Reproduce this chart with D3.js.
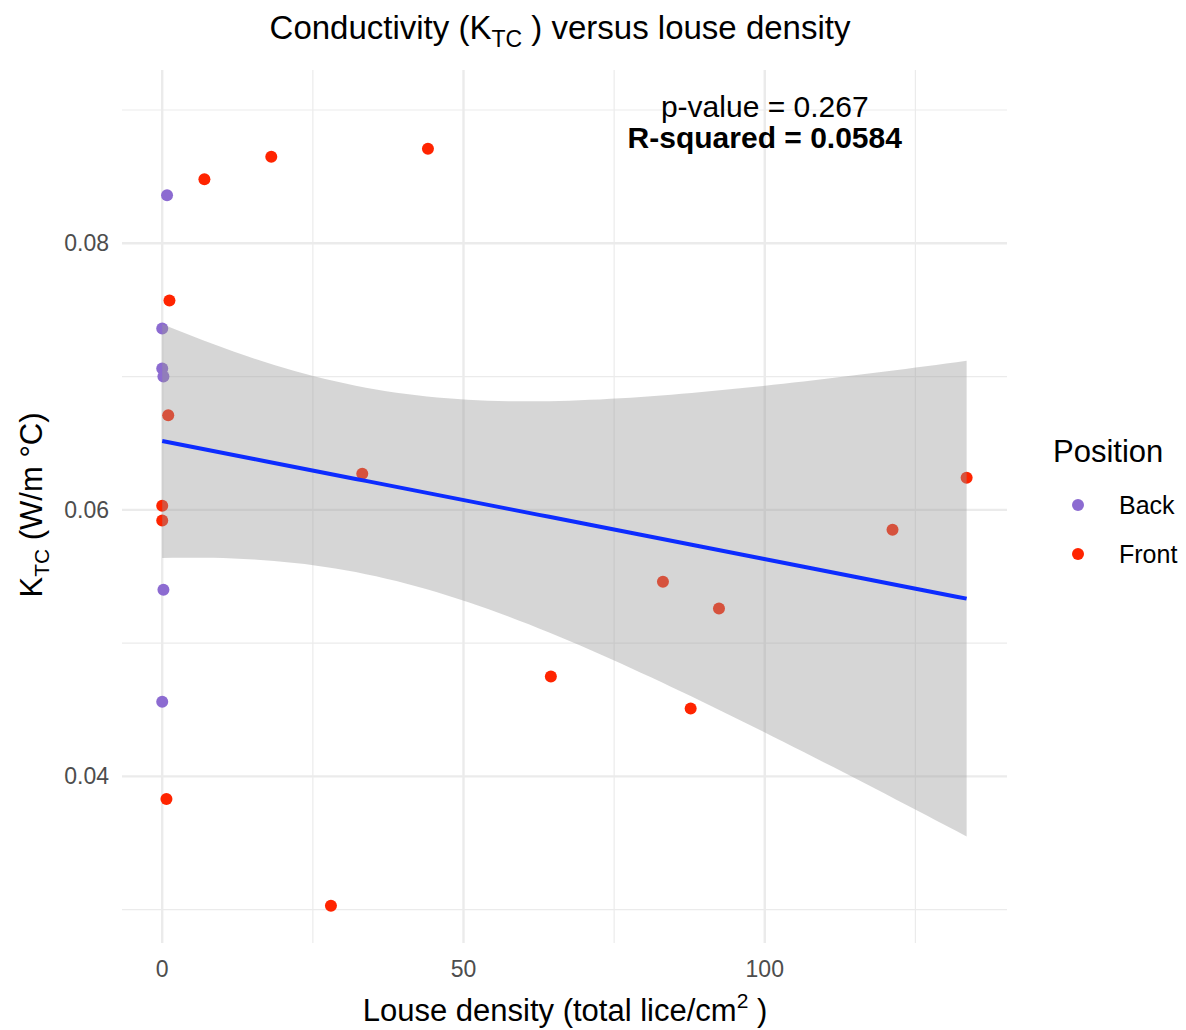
<!DOCTYPE html>
<meta charset="utf-8">
<style>
body {
  margin: 0;
  background: #fff;
  font-family: "Liberation Sans", Helvetica, Arial, sans-serif;
}
.grid line {
  stroke: #ebebeb;
}
.tick-label {
  fill: #4d4d4d;
  font-size: 23px;
}
</style>
<body>
<script src="https://cdn.jsdelivr.net/npm/d3@7"></script>
<script>

var width = 1186,
    height = 1030;

// Back position samples
var backDensity = [0.8, 0, 0, 0.2, 0.2, 0];
var backK = [0.0836, 0.0736, 0.0706, 0.0700, 0.0540, 0.0456];

// Front position samples
var frontDensity = [7.0, 18.1, 44.1, 1.2, 1.0, 33.2, 0, 0, 0.7, 28.0, 64.5, 83.1, 92.4, 87.7, 121.2, 133.5];
var frontK = [0.0848, 0.0865, 0.0871, 0.0757, 0.0671, 0.0627, 0.0603, 0.0592, 0.0383, 0.0303, 0.0475, 0.0546, 0.0526, 0.0451, 0.0585, 0.0624];

var positions = ["Back", "Front"];
var colors = ["#8c6bd1", "#ff2400"];

var xTicks = [0, 50, 100];
var xMinor = [25, 75, 125];
var yTicks = [0.04, 0.06, 0.08];
var yMinor = [0.03, 0.05, 0.07, 0.09];

var annotation = ["p-value = 0.267", "R-squared = 0.0584"];

var margin = {top: 70, right: 179, bottom: 87, left: 122};

var points = [];
backDensity.forEach(function(d, i) { points.push({x: d, y: backK[i], pos: "Back"}); });
frontDensity.forEach(function(d, i) { points.push({x: d, y: frontK[i], pos: "Front"}); });

var x = d3.scaleLinear()
    .domain([-6.675, 140.2])
    .range([margin.left, width - margin.right]);

var y = d3.scaleLinear()
    .domain([0.0275, 0.0930])
    .range([height - margin.bottom, margin.top]);

var color = d3.scaleOrdinal().domain(positions).range(colors);

// linear fit + 95% confidence band
var n = points.length;
var mx = d3.mean(points, function(d) { return d.x; });
var my = d3.mean(points, function(d) { return d.y; });
var sxx = d3.sum(points, function(d) { return (d.x - mx) * (d.x - mx); });
var sxy = d3.sum(points, function(d) { return (d.x - mx) * (d.y - my); });
var slope = sxy / sxx;
var icpt = my - slope * mx;
var sse = d3.sum(points, function(d) { var r = d.y - (icpt + slope * d.x); return r * r; });
var s = Math.sqrt(sse / (n - 2));
var tcrit = 2.086; // t(0.975, df = 20)
var xmin = d3.min(points, function(d) { return d.x; });
var xmax = d3.max(points, function(d) { return d.x; });
var fit = d3.range(80).map(function(i) {
  var xv = xmin + (xmax - xmin) * i / 79;
  var yv = icpt + slope * xv;
  var se = s * Math.sqrt(1 / n + (xv - mx) * (xv - mx) / sxx);
  return {x: xv, y: yv, lo: yv - tcrit * se, hi: yv + tcrit * se};
});

var svg = d3.select("body").append("svg")
    .attr("width", width)
    .attr("height", height);

// grid
var grid = svg.append("g").attr("class", "grid");
grid.selectAll(".ymin").data(yMinor).enter().append("line")
    .attr("x1", margin.left).attr("x2", width - margin.right)
    .attr("y1", y).attr("y2", y)
    .attr("stroke-width", 1.2);
grid.selectAll(".xmin").data(xMinor).enter().append("line")
    .attr("y1", margin.top).attr("y2", height - margin.bottom)
    .attr("x1", x).attr("x2", x)
    .attr("stroke-width", 1.2);
grid.selectAll(".ymaj").data(yTicks).enter().append("line")
    .attr("x1", margin.left).attr("x2", width - margin.right)
    .attr("y1", y).attr("y2", y)
    .attr("stroke-width", 2.4);
grid.selectAll(".xmaj").data(xTicks).enter().append("line")
    .attr("y1", margin.top).attr("y2", height - margin.bottom)
    .attr("x1", x).attr("x2", x)
    .attr("stroke-width", 2.4);

// points
svg.append("g").selectAll("circle")
    .data(points)
  .enter().append("circle")
    .attr("cx", function(d) { return x(d.x); })
    .attr("cy", function(d) { return y(d.y); })
    .attr("r", 6)
    .attr("fill", function(d) { return color(d.pos); });

// smooth
svg.append("path")
    .datum(fit)
    .attr("fill", "#999999")
    .attr("fill-opacity", 0.4)
    .attr("d", d3.area()
      .x(function(d) { return x(d.x); })
      .y0(function(d) { return y(d.lo); })
      .y1(function(d) { return y(d.hi); }));

svg.append("path")
    .datum(fit)
    .attr("fill", "none")
    .attr("stroke", "#0d2cff")
    .attr("stroke-width", 4)
    .attr("d", d3.line()
      .x(function(d) { return x(d.x); })
      .y(function(d) { return y(d.y); }));

// annotation
svg.selectAll(".annot")
    .data(annotation)
  .enter().append("text")
    .attr("x", x(100))
    .attr("y", function(d, i) { return 117 + i * 31; })
    .attr("text-anchor", "middle")
    .attr("font-size", function(d, i) { return i === 1 ? 30 : 30; })
    .attr("font-weight", function(d, i) { return i === 1 ? "bold" : "normal"; })
    .attr("fill", "#000")
    .text(function(d) { return d; });

// tick labels
svg.selectAll(".xl").data(xTicks).enter().append("text")
    .attr("class", "tick-label")
    .attr("x", x)
    .attr("y", 977)
    .attr("text-anchor", "middle")
    .text(function(d) { return d; });

svg.selectAll(".yl").data(yTicks).enter().append("text")
    .attr("class", "tick-label")
    .attr("x", 109)
    .attr("y", function(d) { return y(d) + 8; })
    .attr("text-anchor", "end")
    .text(function(d) { return d3.format(".2f")(d); });

// title
var title = svg.append("text")
    .attr("x", 560)
    .attr("y", 39)
    .attr("text-anchor", "middle")
    .attr("font-size", 33)
    .attr("fill", "#000");
title.append("tspan").text("Conductivity (K");
title.append("tspan").attr("font-size", 23).attr("dy", 8).text("TC");
title.append("tspan").attr("dy", -8).text(" ) versus louse density");

// x axis title
var xt = svg.append("text")
    .attr("x", 565)
    .attr("y", 1021)
    .attr("text-anchor", "middle")
    .attr("font-size", 31)
    .attr("fill", "#000");
xt.append("tspan").text("Louse density (total lice/cm");
xt.append("tspan").attr("font-size", 21).attr("dy", -13).text("2");
xt.append("tspan").attr("dy", 13).text(" )");

// y axis title
var yt = svg.append("text")
    .attr("transform", "translate(42," + 505 + ") rotate(-90)")
    .attr("text-anchor", "middle")
    .attr("font-size", 31)
    .attr("fill", "#000");
yt.append("tspan").text("K");
yt.append("tspan").attr("font-size", 21).attr("dy", 7).text("TC");
yt.append("tspan").attr("dy", -7).text(" (W/m \u00B0C)");

// legend
var legend = svg.append("g");
legend.append("text")
    .attr("x", 1053)
    .attr("y", 462)
    .attr("font-size", 31)
    .attr("fill", "#000")
    .text("Position");
var li = legend.selectAll(".li").data(positions).enter().append("g")
    .attr("transform", function(d, i) { return "translate(0," + (505 + i * 49) + ")"; });
li.append("circle")
    .attr("cx", 1078)
    .attr("r", 6)
    .attr("fill", color);
li.append("text")
    .attr("x", 1119)
    .attr("y", 9)
    .attr("font-size", 25)
    .attr("fill", "#000")
    .text(function(d) { return d; });

</script>
